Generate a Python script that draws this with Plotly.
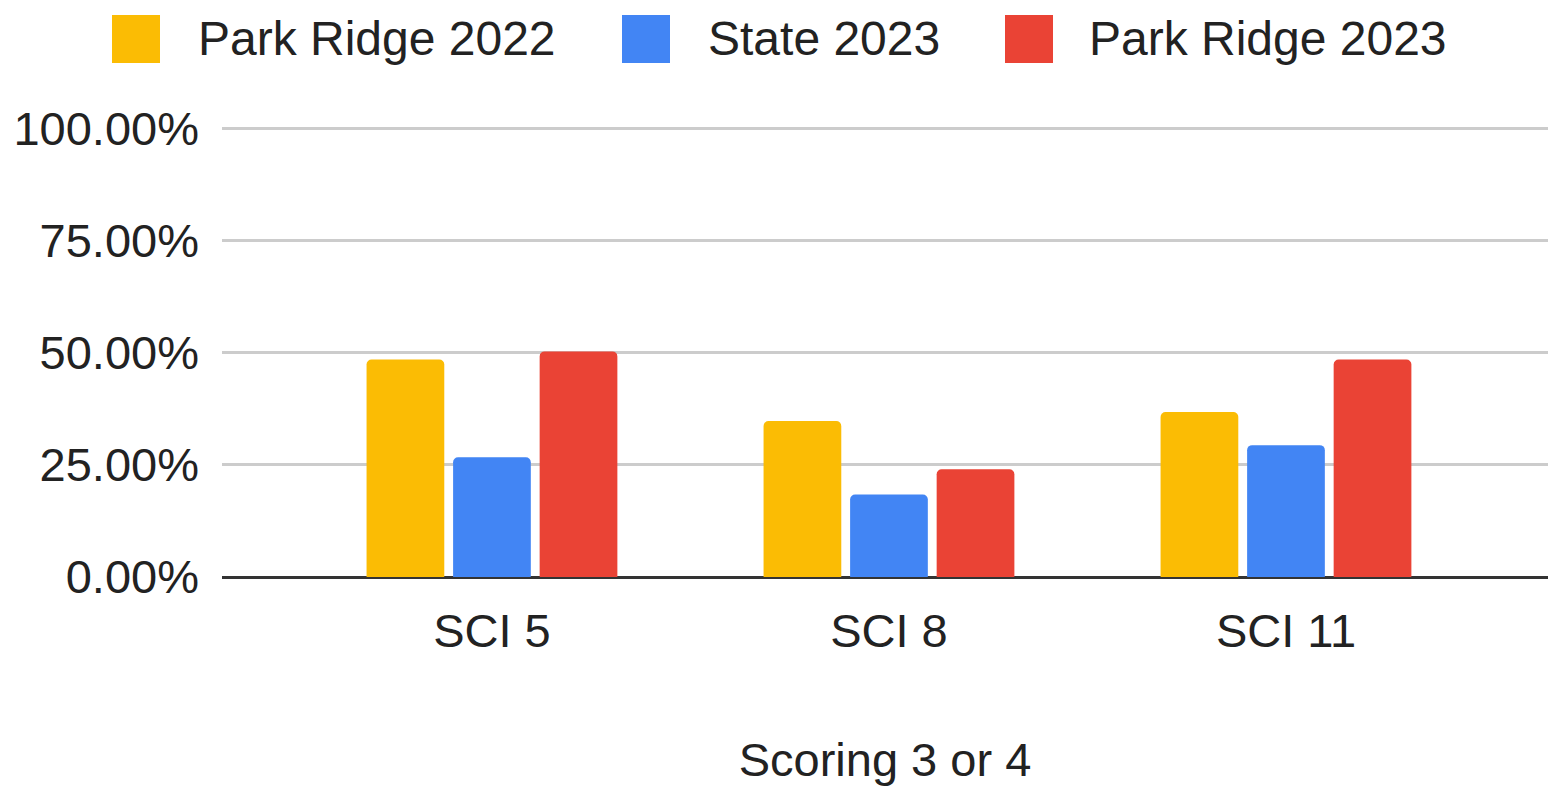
import plotly.graph_objects as go

categories = ["SCI 5", "SCI 8", "SCI 11"]
series_names = ["Park Ridge 2022", "State 2023", "Park Ridge 2023"]
park_ridge_2022 = [0.485, 0.348, 0.368]
state_2023 = [0.267, 0.184, 0.294]
park_ridge_2023 = [0.503, 0.240, 0.485]
y_ticks = [0, 0.25, 0.5, 0.75, 1.0]
x_title = "Scoring 3 or 4"

colors = ["#FBBC04", "#4285F4", "#EA4335"]
series_values = [park_ridge_2022, state_2023, park_ridge_2023]

FONT = "Liberation Sans, Arial, sans-serif"
FS = 47
TXT = "#222222"

W, H = 1548, 786
ML, MR, MT, MB = 222, 0, 124, 209
PW = W - ML - MR
PH = H - MT - MB
YMAX = 1.01

fig = go.Figure()
for name, vals, col in zip(series_names, series_values, colors):
    fig.add_trace(go.Bar(
        x=categories, y=vals, name=name,
        marker=dict(color=col, cornerradius=5, line=dict(width=0)),
        showlegend=False,
    ))

# custom legend (large squares like the reference)
legend_sq_x = [112, 622, 1005]
legend_txt_x = [196, 706, 1087]
sq = 48
ly = 39
def px2x(px):
    return (px - ML) / PW
def py2y(py):
    return (H - MB - py) / PH

for name, col, sx, tx in zip(series_names, colors, legend_sq_x, legend_txt_x):
    fig.add_shape(type="rect", xref="paper", yref="paper",
                  x0=px2x(sx), x1=px2x(sx + sq), y0=py2y(ly + sq / 2), y1=py2y(ly - sq / 2),
                  fillcolor=col, line=dict(width=0), layer="above")
    fig.add_annotation(xref="paper", yref="paper", x=px2x(tx), y=py2y(ly),
                       xanchor="left", yanchor="middle", text=name, showarrow=False,
                       font=dict(family=FONT, size=48, color=TXT))

fig.update_layout(
    width=W, height=H,
    margin=dict(l=ML, r=MR, t=MT, b=MB, pad=0),
    paper_bgcolor="white", plot_bgcolor="white",
    barmode="group", bargap=0.346, bargroupgap=0.102,
    font=dict(family=FONT, size=FS, color=TXT),
    showlegend=False,
)
fig.update_xaxes(
    range=[-0.680, 2.660], showgrid=False, zeroline=False, showline=False,
    ticks="", tickfont=dict(family=FONT, size=FS, color=TXT),
    ticklabelstandoff=22,
    title=dict(text=x_title, font=dict(family=FONT, size=FS, color=TXT), standoff=88),
)
fig.update_yaxes(
    range=[0, YMAX], tickvals=y_ticks, tickformat=".2%",
    showgrid=True, gridcolor="#cccccc", gridwidth=2.5,
    zeroline=True, zerolinecolor="#333333", zerolinewidth=3,
    showline=False, ticks="", tickfont=dict(family=FONT, size=FS, color=TXT),
    ticklabelstandoff=22,
)

fig.write_html("out.html", config={"displayModeBar": False},
               post_script="document.body.style.margin='0';document.body.style.overflow='hidden';")
